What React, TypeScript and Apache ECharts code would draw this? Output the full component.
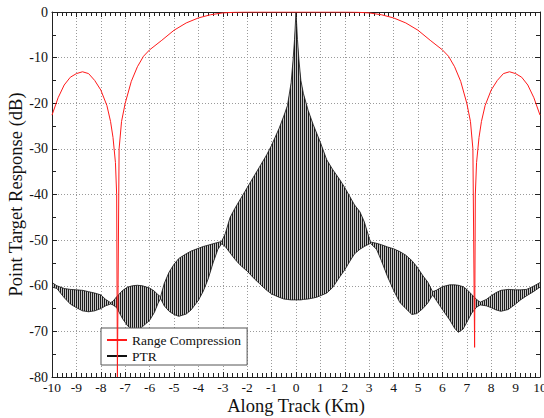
import React, { useEffect, useRef } from "react";
import * as echarts from "echarts";

// Range compression response (dB) along track (km)
const rcX = [
  -10, -9.75, -9.5, -9.25, -9, -8.75, -8.5, -8.25, -8, -7.75, -7.6, -7.5, -7.4, -7.35, -7.32,
  -7.25, -7.15, -7, -6.75, -6.5, -6.25, -6, -5.5, -5, -4.5, -4, -3.5, -3, -2.5, -2,
  2, 2.5, 3, 3.5, 4, 4.5, 5, 5.5, 6, 6.25, 6.5, 6.75, 7, 7.15, 7.25,
  7.32, 7.35, 7.4, 7.5, 7.6, 7.75, 8, 8.25, 8.5, 8.75, 9, 9.25, 9.5, 9.75, 10,
];
const rcDb = [
  -22.6, -18.8, -16, -14.3, -13.5, -13.1, -13.5, -15, -17.1, -20.5, -24, -27.5, -33, -40, -80,
  -30, -24, -20, -15.2, -12, -9.7, -8.3, -6.2, -4, -2.4, -1.3, -0.6, -0.2, -0.05, 0,
  0, -0.05, -0.2, -0.6, -1.3, -2.4, -4, -6.2, -8.3, -9.7, -12, -15.2, -20, -24, -30,
  -73.5, -40, -33, -27.5, -24, -20.5, -17.1, -15, -13.5, -13.1, -13.5, -14.3, -16, -18.8, -22.6,
];

// Point target response: upper and lower envelope of the oscillation (dB)
const ptrX = [
  -10, -9.8, -9.5, -9.25, -9, -8.75, -8.5, -8.25, -8, -7.8, -7.6, -7.5, -7.35, -7.1, -6.9,
  -6.7, -6.5, -6.3, -6, -5.8, -5.65, -5.55, -5.4, -5.2, -5, -4.8, -4.5, -4.3, -4, -3.8,
  -3.6, -3.4, -3.2, -3.05, -2.9, -2.7, -2.5, -2.3, -2, -1.7, -1.5, -1.2, -1, -0.7, -0.5,
  -0.35, -0.2, -0.12, -0.06, 0, 0.06, 0.12, 0.2, 0.3, 0.5, 0.7, 0.85, 1, 1.26, 1.5,
  1.8, 2, 2.21, 2.4, 2.62, 2.8, 2.9, 3.05, 3.3, 3.5, 3.75, 4, 4.25, 4.5, 4.75,
  4.95, 5.2, 5.4, 5.6, 5.75, 6, 6.3, 6.5, 6.65, 6.85, 7, 7.2, 7.4, 7.55, 7.8,
  8, 8.2, 8.4, 8.7, 9, 9.2, 9.45, 9.7, 10,
];
const ptrUpper = [
  -59.3, -60, -60.6, -60.8, -60.9, -61, -61.3, -61.6, -62, -63, -63.7, -63.4, -62.4, -61, -60.3,
  -60, -59.9, -60, -60.5, -61.2, -62, -62.4, -59.5, -57, -55.3, -54, -53, -52.4, -51.8, -51.4,
  -51.1, -50.8, -50.5, -50.3, -48.6, -45, -43, -41.2, -38.5, -35.8, -34, -31.3, -29.2, -25.6, -22.8,
  -20.5, -15.5, -10.5, -6, 0, -6, -10.5, -15, -17.8, -21.6, -24.6, -26.6, -28.6, -32.4, -34.5,
  -36.8, -38.5, -40.5, -42.3, -43.8, -46, -47.8, -50.4, -50.7, -51, -51.5, -51.9, -52.5, -53.3, -54.5,
  -55.8, -57.8, -59.2, -61.3, -61, -60.2, -59.8, -59.8, -59.9, -60.2, -60.8, -61.9, -63, -63.6, -63,
  -62.2, -61.5, -61, -60.8, -60.9, -60.9, -60.8, -60.2, -59.3,
];
const ptrLower = [
  -60.3, -60.6, -62.6, -64, -64.8, -65.5, -65.7, -65.5, -65, -64.4, -64, -64.2, -64.8, -67.3, -68.8,
  -69.6, -69.7, -69, -67.6, -65.8, -63.8, -62.8, -64.4, -65.6, -66.3, -66.7, -66.2, -65.3, -63.2, -61.2,
  -58.5, -55, -52, -50.8, -51.4, -52.8, -54.2, -55.4, -56.8, -58.5, -59.5, -61, -61.8, -62.5, -62.9,
  -63, -63.1, -63.1, -63.1, -63.1, -63.1, -63.1, -63.1, -63, -62.9, -62.7, -62.5, -62.2, -61.6, -60.4,
  -58, -56.5, -54.6, -53, -52, -51.4, -51.1, -50.7, -52, -54.5, -58, -61, -63.6, -65, -66.3,
  -66.1, -65, -63.8, -62, -63.2, -65.2, -67.5, -69.3, -70.2, -69.5, -68, -66, -64.7, -64.2, -64.4,
  -64.8, -65.3, -65.6, -65.2, -64, -63.1, -62.2, -61.4, -60.3,
];

const xTicks = { min: -10, max: 10, interval: 1 };
const yTicks = { min: -80, max: 0, interval: 10 };

const FONT = "'Liberation Serif', 'Times New Roman', serif";

function stripePattern() {
  const c = document.createElement("canvas");
  c.width = 2;
  c.height = 1;
  const ctx = c.getContext("2d")!;
  ctx.fillStyle = "#1c1c1c";
  ctx.fillRect(0, 0, 1, 1);
  ctx.fillStyle = "#c4c4c4";
  ctx.fillRect(1, 0, 1, 1);
  return { image: c.toDataURL(), repeat: "repeat", imageWidth: 2, imageHeight: 1 };
}

export default function App() {
  const ref = useRef<HTMLDivElement>(null);

  useEffect(() => {
    if (!ref.current) return;
    const chart = echarts.init(ref.current, null, { renderer: "svg" });
    const pattern = stripePattern();

    const axisLine = { show: true, onZero: false, lineStyle: { color: "#222", width: 1 } };
    const dotted = { show: true, lineStyle: { color: "#9a9a9a", width: 1, type: [1, 2] } };
    const tick = { show: true, inside: true, length: 5, lineStyle: { color: "#222" } };

    const baseX = {
      type: "value",
      ...xTicks,
      axisLine,
      axisTick: tick,
      minorTick: { show: true, splitNumber: 5, length: 4, lineStyle: { color: "#222" } },
    };
    const baseY = {
      type: "value",
      ...yTicks,
      axisLine,
      axisTick: tick,
      minorTick: { show: true, splitNumber: 2, length: 4, lineStyle: { color: "#222" } },
    };

    chart.setOption({
      animation: false,
      backgroundColor: "#fff",
      textStyle: { fontFamily: FONT },
      grid: {
        show: false,
        left: 52,
        right: 4,
        top: 12,
        bottom: 41,
        containLabel: false,
        outerBoundsMode: "none",
      },
      legend: {
        data: ["Range Compression", "PTR"],
        orient: "vertical",
        left: 101,
        top: 328,
        padding: [5, 6, 2, 5],
        itemGap: 2,
        itemWidth: 20,
        itemHeight: 14,
        itemStyle: { opacity: 0 },
        backgroundColor: "#fff",
        borderColor: "#555",
        borderWidth: 1,
        borderRadius: 0,
        selectedMode: false,
        textStyle: { fontFamily: FONT, fontSize: 13.5, color: "#111" },
      },
      xAxis: [
        {
          ...baseX,
          position: "bottom",
          name: "Along Track (Km)",
          nameLocation: "middle",
          nameMoveOverlap: false,
          nameGap: 19,
          nameTextStyle: { fontFamily: FONT, fontSize: 18.5, color: "#111" },
          axisLabel: { margin: 3, fontFamily: FONT, fontSize: 13.5, color: "#111" },
          splitLine: dotted,
        },
        {
          ...baseX,
          position: "top",
          axisLabel: { show: false },
          splitLine: { show: false },
        },
      ],
      yAxis: [
        {
          ...baseY,
          position: "left",
          name: "Point Target Response (dB)",
          nameLocation: "middle",
          nameMoveOverlap: false,
          nameGap: 27,
          nameTextStyle: { fontFamily: FONT, fontSize: 18.5, color: "#111" },
          axisLabel: { margin: 4, fontFamily: FONT, fontSize: 14, color: "#111" },
          splitLine: dotted,
        },
        {
          ...baseY,
          position: "right",
          axisLabel: { show: false },
          splitLine: { show: false },
        },
      ],
      series: [
        {
          type: "custom",
          name: "ptr-band",
          xAxisIndex: 0,
          yAxisIndex: 0,
          data: [[0, 0]],
          z: 2,
          silent: true,
          renderItem: (_params: any, api: any) => {
            const pts: number[][] = [];
            for (let i = 0; i < ptrX.length; i++) pts.push(api.coord([ptrX[i], ptrUpper[i]]));
            for (let i = ptrX.length - 1; i >= 0; i--) pts.push(api.coord([ptrX[i], ptrLower[i]]));
            return {
              type: "polygon",
              shape: { points: pts },
              style: { fill: pattern, stroke: null },
            };
          },
        },
        {
          type: "line",
          name: "PTR",
          data: ptrX.map((x, i) => [x, ptrUpper[i]]),
          symbol: "none",
          z: 3,
          color: "#000",
          lineStyle: { color: "#111", width: 0.8 },
        },
        {
          type: "line",
          name: "PTR",
          data: ptrX.map((x, i) => [x, ptrLower[i]]),
          symbol: "none",
          z: 3,
          color: "#000",
          lineStyle: { color: "#111", width: 0.8 },
        },
        {
          type: "line",
          name: "Range Compression",
          data: rcX.map((x, i) => [x, rcDb[i]]),
          symbol: "none",
          z: 4,
          color: "#ff1a1a",
          lineStyle: { color: "#ff1a1a", width: 1 },
        },
      ],
    });

    return () => chart.dispose();
  }, []);

  return (
    <div
      ref={ref}
      style={{ position: "absolute", left: 0, top: 0, width: 544, height: 418 }}
    />
  );
}
